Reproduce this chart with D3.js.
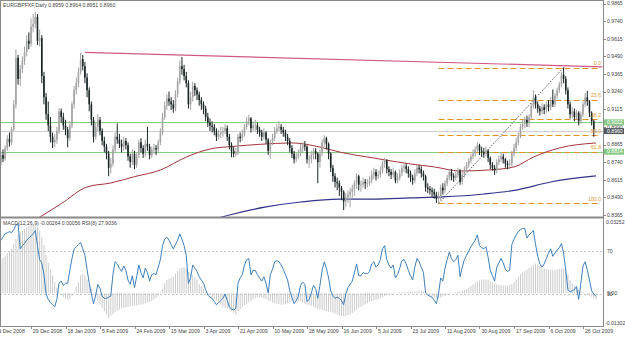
<!DOCTYPE html>
<html>
<head>
<meta charset="utf-8">
<script src="https://cdn.jsdelivr.net/npm/d3@7"></script>
<style>
    body { margin: 0; background: #fff; }
    svg { display: block; }
    text { font-family: "Liberation Sans", Arial, sans-serif; font-size: 5.15px; fill: #444; }
</style>
</head>
<body>
<div id="chart"></div>
<script>
// EURGBP daily, prices in points (1 point = 0.0001)
const opens = [
    8740,8760,8725,8790,8765,8840,8905,8880,8975,9150,
    9480,9330,9400,9460,9520,9600,9580,9700,9720,9770,
    9600,9620,9350,9200,9080,9000,8920,8880,8900,8960,
    9100,9060,9000,8970,8910,9000,9150,9250,9300,9380,
    9470,9420,9340,9250,9150,9040,8920,8990,9040,8960,
    8890,8850,8800,8700,8730,8830,8920,8900,8870,8850,
    8890,8860,8780,8740,8800,8720,8790,8880,8840,8800,
    8870,8850,8790,8830,8840,8830,8880,8950,9060,9140,
    9190,9170,9150,9120,9220,9310,9420,9400,9350,9300,
    9150,9200,9280,9250,9220,9180,9150,9120,9060,9020,
    9000,8990,8960,8920,8940,8950,8960,8980,8920,8860,
    8820,8800,8810,8920,8910,8940,8990,9030,9050,8980,
    9000,9000,8970,8950,8920,8950,8900,8820,8880,8910,
    8960,8980,8990,8970,8950,8920,8890,8840,8800,8760,
    8780,8800,8840,8860,8850,8760,8760,8790,8820,8800,
    8740,8800,8880,8910,8870,8800,8700,8640,8600,8590,
    8560,8530,8460,8490,8510,8530,8550,8590,8640,8580,
    8580,8600,8590,8590,8610,8650,8670,8640,8650,8680,
    8730,8750,8690,8670,8650,8670,8610,8630,8660,8700,
    8710,8690,8660,8630,8610,8660,8700,8690,8660,8640,
    8560,8550,8540,8530,8510,8480,8500,8560,8540,8590,
    8630,8670,8640,8630,8650,8680,8600,8650,8690,8720,
    8750,8780,8800,8830,8860,8820,8810,8800,8820,8770,
    8720,8700,8680,8740,8760,8780,8760,8730,8720,8730,
    8800,8840,8880,8930,8990,9010,9040,9020,9060,9140,
    9200,9150,9120,9100,9130,9110,9150,9130,9180,9150,
    9210,9250,9290,9360,9330,9250,9150,9080,9100,9060,
    9090,9030,9080,9150,9200,9170,9090,9030,8959
];
const highs = [
    8790,8780,8810,8830,8860,8930,8950,8990,9180,9540,
    9500,9430,9490,9560,9640,9660,9760,9790,9805,9790,
    9680,9640,9380,9230,9170,9060,8950,8940,8990,9125,
    9120,9090,9040,8990,9030,9170,9280,9340,9410,9515,
    9500,9450,9370,9270,9170,9060,9020,9080,9060,8980,
    8920,8870,8820,8770,8860,8950,9015,8940,8900,8920,
    8910,8880,8800,8830,8820,8810,8900,8910,8860,8900,
    8990,8870,8850,8870,8860,8900,8980,9090,9170,9220,
    9240,9200,9180,9250,9340,9460,9485,9430,9380,9320,
    9240,9310,9300,9270,9240,9200,9170,9140,9090,9050,
    9030,9010,8980,8970,8990,8990,9010,9000,8940,8880,
    8850,8840,8940,8950,8970,9010,9060,9075,9060,9030,
    9040,9020,8990,8970,8980,8960,8910,8900,8940,8990,
    9010,9030,9010,8990,8970,8940,8910,8860,8820,8810,
    8830,8870,8880,8890,8860,8790,8820,8840,8840,8810,
    8830,8900,8930,8920,8880,8810,8720,8660,8630,8610,
    8570,8540,8520,8540,8560,8580,8610,8660,8650,8610,
    8630,8620,8620,8640,8680,8700,8690,8680,8710,8750,
    8770,8760,8710,8690,8700,8680,8660,8690,8720,8730,
    8730,8710,8680,8650,8690,8720,8720,8710,8680,8650,
    8590,8570,8560,8550,8530,8530,8580,8590,8610,8650,
    8690,8690,8660,8680,8700,8690,8670,8710,8740,8770,
    8800,8830,8850,8880,8870,8850,8840,8850,8830,8780,
    8740,8720,8760,8790,8810,8800,8770,8750,8760,8820,
    8870,8910,8950,9010,9040,9060,9070,9080,9160,9250,
    9220,9170,9140,9160,9150,9170,9180,9200,9255,9230,
    9270,9310,9380,9411,9350,9270,9170,9130,9120,9110,
    9100,9100,9170,9230,9245,9180,9100,9040,8964
];
const lows = [
    8700,8690,8710,8740,8750,8820,8850,8860,8960,9120,
    9290,9280,9370,9430,9490,9540,9560,9660,9690,9570,
    9560,9300,9150,9040,8960,8880,8840,8845,8870,8940,
    9020,8970,8930,8845,8890,8980,9120,9220,9270,9360,
    9390,9300,9200,9100,9000,8880,8900,8960,8930,8860,
    8810,8760,8640,8660,8710,8810,8870,8840,8810,8820,
    8830,8750,8700,8720,8690,8700,8770,8810,8770,8780,
    8820,8760,8770,8800,8790,8810,8860,8930,9040,9110,
    9140,9110,9090,9100,9200,9290,9360,9320,9270,9120,
    9110,9170,9210,9180,9140,9110,9080,9030,8990,8960,
    8950,8930,8890,8900,8910,8920,8940,8890,8830,8775,
    8775,8780,8790,8880,8890,8920,8970,9000,8950,8960,
    8960,8940,8920,8890,8900,8870,8790,8765,8860,8890,
    8940,8960,8940,8920,8890,8860,8810,8770,8730,8740,
    8760,8780,8810,8820,8730,8700,8730,8760,8760,8590,
    8700,8780,8850,8830,8760,8670,8600,8560,8540,8500,
    8470,8400,8420,8450,8420,8480,8500,8550,8540,8530,
    8560,8550,8560,8570,8590,8620,8610,8620,8630,8660,
    8700,8660,8640,8620,8630,8590,8590,8610,8640,8670,
    8660,8630,8600,8580,8590,8640,8660,8630,8610,8530,
    8520,8510,8490,8480,8450,8447,8470,8510,8520,8570,
    8610,8610,8600,8610,8630,8580,8580,8630,8670,8700,
    8730,8760,8780,8810,8790,8780,8770,8780,8740,8690,
    8680,8650,8660,8720,8740,8730,8700,8690,8690,8710,
    8780,8820,8860,8910,8970,8980,8990,8990,9040,9120,
    9120,9090,9070,9080,9080,9090,9100,9110,9130,9130,
    9190,9230,9270,9300,9220,9120,9050,9050,9030,9040,
    9000,9010,9060,9130,9140,9060,9000,8920,8951
];
const closes = [
    8760,8725,8790,8765,8840,8905,8880,8975,9150,9480,
    9330,9400,9460,9520,9600,9580,9700,9720,9770,9600,
    9620,9350,9200,9080,9000,8920,8880,8900,8960,9100,
    9060,9000,8970,8910,9000,9150,9250,9300,9380,9470,
    9420,9340,9250,9150,9040,8920,8990,9040,8960,8890,
    8850,8800,8700,8730,8830,8920,8900,8870,8850,8890,
    8860,8780,8740,8800,8720,8790,8880,8840,8800,8870,
    8850,8790,8830,8840,8830,8880,8950,9060,9140,9190,
    9170,9150,9120,9220,9310,9420,9400,9350,9300,9150,
    9200,9280,9250,9220,9180,9150,9120,9060,9020,9000,
    8990,8960,8920,8940,8950,8960,8980,8920,8860,8820,
    8800,8810,8920,8910,8940,8990,9030,9050,8980,9000,
    9000,8970,8950,8920,8950,8900,8820,8880,8910,8960,
    8980,8990,8970,8950,8920,8890,8840,8800,8760,8780,
    8800,8840,8860,8850,8760,8760,8790,8820,8800,8740,
    8800,8880,8910,8870,8800,8700,8640,8600,8590,8560,
    8530,8460,8490,8510,8530,8550,8590,8640,8580,8580,
    8600,8590,8590,8610,8650,8670,8640,8650,8680,8730,
    8750,8690,8670,8650,8670,8610,8630,8660,8700,8710,
    8690,8660,8630,8610,8660,8700,8690,8660,8640,8560,
    8550,8540,8530,8510,8480,8500,8560,8540,8590,8630,
    8670,8640,8630,8650,8680,8600,8650,8690,8720,8750,
    8780,8800,8830,8860,8820,8810,8800,8820,8770,8720,
    8700,8680,8740,8760,8780,8760,8730,8720,8730,8800,
    8840,8880,8930,8990,9010,9040,9020,9060,9140,9200,
    9150,9120,9100,9130,9110,9150,9130,9180,9150,9210,
    9250,9290,9360,9330,9250,9150,9080,9100,9060,9090,
    9030,9080,9150,9200,9170,9090,9030,8975,8960
];

// moving averages, read at a few bars
const maRedBars = [18, 30, 42, 53, 64, 76, 88, 99, 110, 122, 137, 150, 159, 175, 192, 203, 215, 228, 240, 249, 261, 278];
const maRed = [0.8330, 0.8445, 0.8564, 0.8592, 0.8637, 0.8684, 0.8776, 0.8833, 0.8852, 0.8866, 0.8876, 0.8847, 0.8812, 0.8769, 0.8727, 0.8706, 0.8677, 0.8684, 0.8706, 0.8776, 0.8840, 0.8876];
const maBlueBars = [104, 108, 125, 141, 159, 175, 192, 207, 226, 241, 257, 278];
const maBlue = [0.8348, 0.8365, 0.8422, 0.8457, 0.8478, 0.8478, 0.8486, 0.8493, 0.8514, 0.8542, 0.8599, 0.8642];

// trendline and fibonacci
const trendBars = [41, 281];
const trendPrices = [0.9518, 0.9416];
const fibBars = [205, 263];
const fibLow = 0.8447;
const fibHigh = 0.9411;
const fibLevels = [0, 23.6, 38.2, 50, 61.8, 100];

// horizontal lines
const greenLevels = [0.9022, 0.8814];
const bidPrice = 0.8960;

// RSI(8) and MACD(12,26,9) main line
const rsi = [
    74,77,80,83,86,87,88,87,90,94,
    95.5,72,75,77,80,82,84,86,89,75,
    62,59,48,30,25,22,20,18,25,40,
    42,38,40,40,52,63,72,74,76,78,
    72,66,53,40,30,21,29,39,35,28,
    26,26,27,28,48,60,58,54,51,56,
    52,43,39,47,36,46,57,50,45,54,
    50,42,48,49,48,55,62,75,81,83,
    80,76,72,76,80,86,81,75,66,40,
    45,57,54,51,46,43,40,34,29,27,
    26,23,20,22,24,26,30,24,18,16,
    15,17,40,45,48,57,62,63,48,52,
    52,48,45,42,46,40,31,48,53,60,
    61,60,57,53,48,43,33,27,21,24,
    28,38,41,39,23,25,31,38,35,26,
    38,52,60,54,45,33,28,26,27,26,
    24,20,30,36,39,42,50,58,47,47,
    50,49,49,51,58,60,55,57,62,72,
    75,62,57,54,57,45,48,54,61,62,
    58,52,47,43,55,63,60,55,50,31,
    29,28,27,24,21,30,45,42,54,62,
    69,63,60,62,66,46,55,62,66,70,
    74,77,80,85,75,73,72,74,64,52,
    47,42,55,59,63,59,53,51,52,76,
    81,85,88,90,91,91,82,85,87,89,
    76,65,58,55,58,63,68,72,65,68,
    71,73,77,68,52,34,32,33,34,37,
    25,40,56,60,52,43,33,30,27.9
];
const macd = [
    0.0125,0.0138,0.0148,0.0158,0.0168,0.0177,0.0187,0.0200,0.0220,0.0245,
    0.0262,0.0272,0.0280,0.0288,0.0295,0.0301,0.0305,0.0308,0.0305,0.0295,
    0.0278,0.0250,0.0215,0.0172,0.0135,0.0105,0.0080,0.0050,0.0025,0.0008,
    -0.0008,-0.0018,-0.0025,-0.0027,-0.0026,-0.0012,0.0005,0.0030,0.0050,0.0080,
    0.0086,0.0080,0.0062,0.0040,0.0020,0.0002,-0.0018,-0.0035,-0.0050,-0.0065,
    -0.0080,-0.0095,-0.0109,-0.0100,-0.0092,-0.0085,-0.0078,-0.0072,-0.0068,-0.0065,
    -0.0062,-0.0060,-0.0058,-0.0056,-0.0055,-0.0054,-0.0052,-0.0050,-0.0049,-0.0045,
    -0.0041,-0.0038,-0.0034,-0.0028,-0.0020,-0.0010,0.0005,0.0020,0.0045,0.0060,
    0.0065,0.0070,0.0074,0.0088,0.0100,0.0111,0.0115,0.0118,0.0110,0.0096,
    0.0088,0.0080,0.0070,0.0060,0.0040,0.0033,0.0020,0.0005,-0.0003,-0.0010,
    -0.0018,-0.0025,-0.0033,-0.0041,-0.0050,-0.0058,-0.0064,-0.0068,-0.0071,-0.0080,
    -0.0088,-0.0094,-0.0082,-0.0072,-0.0062,-0.0052,-0.0049,-0.0040,-0.0033,-0.0026,
    -0.0022,-0.0019,-0.0018,-0.0020,-0.0023,-0.0026,-0.0031,-0.0036,-0.0041,-0.0044,
    -0.0047,-0.0049,-0.0050,-0.0050,-0.0049,-0.0044,-0.0038,-0.0033,-0.0033,-0.0033,
    -0.0033,-0.0036,-0.0041,-0.0048,-0.0050,-0.0053,-0.0056,-0.0060,-0.0065,-0.0069,
    -0.0071,-0.0074,-0.0077,-0.0079,-0.0082,-0.0085,-0.0087,-0.0091,-0.0095,-0.0099,
    -0.0101,-0.0102,-0.0102,-0.0097,-0.0093,-0.0087,-0.0080,-0.0072,-0.0065,-0.0060,
    -0.0055,-0.0049,-0.0044,-0.0039,-0.0034,-0.0031,-0.0029,-0.0027,-0.0022,-0.0017,
    -0.0012,-0.0009,-0.0006,-0.0004,-0.0003,0.0000,0.0003,0.0005,0.0005,0.0006,
    0.0006,0.0006,0.0007,0.0008,0.0009,0.0010,0.0011,0.0012,0.0008,0.0002,
    -0.0004,-0.0009,-0.0014,-0.0019,-0.0022,-0.0023,-0.0018,-0.0014,-0.0010,-0.0006,
    -0.0003,0.0000,0.0003,0.0005,0.0007,0.0009,0.0012,0.0016,0.0020,0.0025,
    0.0033,0.0040,0.0048,0.0054,0.0058,0.0061,0.0062,0.0061,0.0059,0.0054,
    0.0049,0.0044,0.0040,0.0037,0.0036,0.0035,0.0035,0.0035,0.0036,0.0042,
    0.0050,0.0062,0.0075,0.0085,0.0094,0.0100,0.0106,0.0113,0.0120,0.0127,
    0.0133,0.0128,0.0120,0.0113,0.0110,0.0108,0.0106,0.0105,0.0104,0.0103,
    0.0105,0.0108,0.0111,0.0110,0.0106,0.0085,0.0060,0.0045,0.0035,0.0025,
    0.0016,0.0010,0.0005,0.0000,-0.0007,-0.0011,-0.0015,-0.0021,-0.0026
];

// axis labels
const priceTicks = [0.9865, 0.9740, 0.9615, 0.9490, 0.9365, 0.9240, 0.9115, 0.8990, 0.8865, 0.8740, 0.8615, 0.8490, 0.8365];
const dateLabels = ["9 Dec 2008", "29 Dec 2008", "18 Jan 2009", "5 Feb 2009", "24 Feb 2009", "15 Mar 2009",
    "3 Apr 2009", "21 Apr 2009", "10 May 2009", "28 May 2009", "16 Jun 2009", "5 Jul 2009",
    "23 Jul 2009", "11 Aug 2009", "30 Aug 2009", "17 Sep 2009", "6 Oct 2009", "26 Oct 2009"];
const barsPerLabel = 16;
const rsiLevels = [70, 30];
const macdRange = [-0.01302, 0.03252];

const PIP = 0.0001;
const width = 625, height = 337;
const axisX = 603;
const mainTop = 0, mainBottom = 217;
const subTop = 218, subBottom = 326;

const svg = d3.select("#chart").append("svg")
    .attr("width", width)
    .attr("height", height);

const x = d3.scaleLinear().domain([0, 272]).range([-3.5, 583]);
const yP = d3.scaleLinear().domain([0.8365, 0.9865]).range([215, 3.5]);
const yRsi = d3.scaleLinear().domain([30, 70]).range([294, 251]);
const yMacd = d3.scaleLinear().domain(macdRange).range([322.5, 220.5]);
// snap 1px horizontal lines onto the pixel grid
const crisp = v => Math.round(v) + 0.5;

const defs = svg.append("defs");
defs.append("clipPath").attr("id", "clipMain")
    .append("rect").attr("x", 1).attr("y", mainTop + 1).attr("width", axisX - 1).attr("height", mainBottom - mainTop - 1);
defs.append("clipPath").attr("id", "clipSub")
    .append("rect").attr("x", 1).attr("y", subTop + 1).attr("width", axisX - 1).attr("height", subBottom - subTop - 1);

const main = svg.append("g").attr("clip-path", "url(#clipMain)");
const sub = svg.append("g").attr("clip-path", "url(#clipSub)");

// horizontal levels
main.selectAll("line.green").data(greenLevels).join("line")
    .attr("class", "green")
    .attr("x1", 0).attr("x2", axisX)
    .attr("y1", d => crisp(yP(d))).attr("y2", d => crisp(yP(d)))
    .attr("stroke", "#85cf85").attr("stroke-width", 1);
main.append("line")
    .attr("x1", 0).attr("x2", axisX)
    .attr("y1", crisp(yP(bidPrice))).attr("y2", crisp(yP(bidPrice)))
    .attr("stroke", "#cfcfcf").attr("stroke-width", 1);

// fibonacci
const fibPrice = lvl => fibHigh - (fibHigh - fibLow) * lvl / 100;
main.selectAll("line.fib").data(fibLevels).join("line")
    .attr("class", "fib")
    .attr("x1", x(fibBars[0])).attr("x2", x(278) + 2)
    .attr("y1", d => crisp(yP(fibPrice(d)))).attr("y2", d => crisp(yP(fibPrice(d))))
    .attr("stroke", "#e0941f").attr("stroke-width", 1)
    .attr("stroke-dasharray", "6,3");
main.append("line")
    .attr("x1", x(fibBars[0])).attr("y1", yP(fibLow))
    .attr("x2", x(fibBars[1])).attr("y2", yP(fibHigh))
    .attr("stroke", "#333").attr("stroke-width", 0.8)
    .attr("stroke-dasharray", "1.5,1.5");

// trend line
main.append("line")
    .attr("x1", x(trendBars[0])).attr("y1", yP(trendPrices[0]))
    .attr("x2", x(trendBars[1])).attr("y2", yP(trendPrices[1]))
    .attr("stroke", "#d05a84").attr("stroke-width", 1.2);

// moving averages
const maLine = d3.line().x(d => x(d[0])).y(d => yP(d[1])).curve(d3.curveMonotoneX);
main.append("path")
    .attr("d", maLine(maRedBars.map((b, i) => [b, maRed[i]])))
    .attr("fill", "none").attr("stroke", "#a3343f").attr("stroke-width", 1);
main.append("path")
    .attr("d", maLine(maBlueBars.map((b, i) => [b, maBlue[i]])))
    .attr("fill", "none").attr("stroke", "#33338a").attr("stroke-width", 1.2);

// candles
const bars = closes.map((c, i) => ({ i, o: opens[i] * PIP, h: highs[i] * PIP, l: lows[i] * PIP, c: c * PIP }));
const candleColor = d => d.c >= d.o ? "#a3a3a3" : "#1c2626";
main.selectAll("line.wick").data(bars).join("line")
    .attr("class", "wick")
    .attr("x1", d => x(d.i)).attr("x2", d => x(d.i))
    .attr("y1", d => yP(d.h)).attr("y2", d => yP(d.l))
    .attr("stroke", candleColor).attr("stroke-width", 1);
main.selectAll("rect.body").data(bars).join("rect")
    .attr("class", "body")
    .attr("x", d => x(d.i) - 0.8)
    .attr("width", 1.6)
    .attr("y", d => yP(Math.max(d.o, d.c)))
    .attr("height", d => Math.max(0.8, Math.abs(yP(d.o) - yP(d.c))))
    .attr("fill", candleColor);

// fib labels
main.selectAll("text.fib").data(fibLevels).join("text")
    .attr("class", "fib")
    .attr("x", 601).attr("y", d => yP(fibPrice(d)) - 2.5)
    .attr("text-anchor", "end")
    .style("fill", "#d9952e")
    .text(d => d.toFixed(1));

// sub window: levels, MACD histogram, RSI
sub.selectAll("line.lvl").data(rsiLevels).join("line")
    .attr("class", "lvl")
    .attr("x1", 0).attr("x2", axisX)
    .attr("y1", d => crisp(yRsi(d))).attr("y2", d => crisp(yRsi(d)))
    .attr("stroke", "#bdbdbd").attr("stroke-width", 0.8)
    .attr("stroke-dasharray", "2,2");
sub.selectAll("line.hist").data(macd).join("line")
    .attr("class", "hist")
    .attr("x1", (d, i) => x(i)).attr("x2", (d, i) => x(i))
    .attr("y1", yMacd(0)).attr("y2", d => yMacd(d))
    .attr("stroke", "#c4c4c4").attr("stroke-width", 0.9);
sub.append("path")
    .attr("d", d3.line().x((d, i) => x(i)).y(d => yRsi(d))(rsi))
    .attr("fill", "none").attr("stroke", "#3f80bd").attr("stroke-width", 1);

// frames
const frame = svg.append("g").attr("stroke", "#8a8a8a").attr("fill", "none");
frame.append("line").attr("x1", 0).attr("x2", axisX).attr("y1", 0.5).attr("y2", 0.5);
frame.append("line").attr("x1", 0.5).attr("x2", 0.5).attr("y1", 0).attr("y2", subBottom);
frame.append("line").attr("x1", axisX + 0.5).attr("x2", axisX + 0.5).attr("y1", 0).attr("y2", subBottom + 1);
frame.append("line").attr("x1", 0).attr("x2", axisX).attr("y1", mainBottom + 0.5).attr("y2", mainBottom + 0.5).attr("stroke-width", 2);
frame.append("line").attr("x1", 0).attr("x2", axisX).attr("y1", subBottom + 0.5).attr("y2", subBottom + 0.5);

// price axis
svg.selectAll("line.ptick").data(priceTicks).join("line")
    .attr("class", "ptick")
    .attr("x1", axisX).attr("x2", axisX + 3)
    .attr("y1", d => crisp(yP(d))).attr("y2", d => crisp(yP(d)))
    .attr("stroke", "#8a8a8a");
svg.selectAll("text.ptick").data(priceTicks).join("text")
    .attr("class", "ptick")
    .attr("x", 607).attr("y", d => yP(d) + 1.8)
    .text(d => d.toFixed(4));

// price boxes on the axis
const priceBox = (p, bg) => {
    const g = svg.append("g");
    g.append("rect").attr("x", axisX + 1).attr("y", yP(p) - 3)
        .attr("width", 20).attr("height", 6).attr("fill", bg);
    g.append("text").attr("x", 607).attr("y", yP(p) + 1.8)
        .style("fill", "#fff").text(p.toFixed(4));
};
greenLevels.forEach(p => priceBox(p, "#86c986"));
priceBox(bidPrice, "#555b61");

// sub axis labels
svg.append("text").attr("x", 606).attr("y", 223.5).text(macdRange[1].toFixed(5));
svg.append("text").attr("x", 605).attr("y", 324.5).text(macdRange[0].toFixed(5));
svg.selectAll("text.rsi").data(rsiLevels).join("text")
    .attr("class", "rsi")
    .attr("x", 607).attr("y", d => yRsi(d) + 1.8).text(d => d);
svg.append("text").attr("x", 607).attr("y", yMacd(0) + 1.8).text("0.00");

// date axis
svg.selectAll("line.dtick").data(dateLabels).join("line")
    .attr("class", "dtick")
    .attr("x1", (d, k) => crisp(x(k * barsPerLabel)))
    .attr("x2", (d, k) => crisp(x(k * barsPerLabel)))
    .attr("y1", subBottom).attr("y2", subBottom + 3)
    .attr("stroke", "#8a8a8a");
svg.selectAll("text.date").data(dateLabels).join("text")
    .attr("class", "date")
    .attr("x", (d, k) => x(k * barsPerLabel) + 2)
    .attr("y", 333)
    .text(d => d);

// window captions
svg.append("text").attr("x", 3).attr("y", 6.5)
    .text("EURGBPFXF,Daily  0.8959 0.8964 0.8951 0.8960");
svg.append("text").attr("x", 3).attr("y", 224.5)
    .text("MACD(12,26,9) -0.00264 0.00056  RSI(8) 27.9036");
</script>
</body>
</html>
